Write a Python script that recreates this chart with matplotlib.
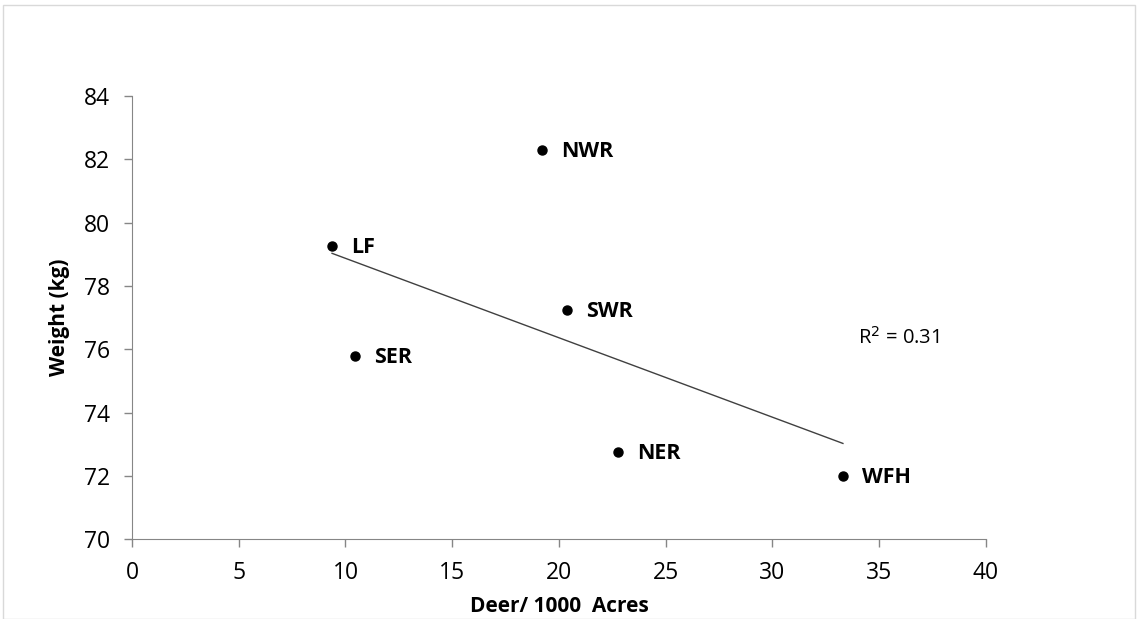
import numpy as np
import matplotlib
matplotlib.use('Agg')
from matplotlib import pyplot as plt
from matplotlib.patches import Rectangle

sites = ['LF', 'SER', 'NWR', 'SWR', 'NER', 'WFH']
deer_density = [9.37, 10.44, 19.2, 20.37, 22.76, 33.3]
weight = [79.26, 75.78, 82.29, 77.24, 72.75, 71.99]
r2_text = 'R$^2$ = 0.31'

plt.rcParams['font.family'] = ['Open Sans', 'DejaVu Sans']

fig = plt.figure(figsize=(11.38, 6.19), dpi=100)
ax = fig.add_axes([0.116, 0.129, 0.7504, 0.716])

fig.patches.append(Rectangle((0.003, 0.0), 0.994, 0.992, transform=fig.transFigure,
                             fill=False, edgecolor='#d9d9d9', linewidth=1))

ax.plot(deer_density, weight, 'o', color='black', markersize=6.5)
for name, x, y in zip(sites, deer_density, weight):
    ax.annotate(name, (x, y), xytext=(14, -1), textcoords='offset points',
                va='center', ha='left', fontsize=15.5, fontweight='bold')

slope, intercept = np.polyfit(deer_density, weight, 1)
xs = np.array([min(deer_density), max(deer_density)])
ax.plot(xs, slope * xs + intercept, color='#404040', linewidth=1)

ax.text(34.0, 76.35, r2_text, fontsize=14.5, va='center', ha='left')

ax.set_xlim(0, 40)
ax.set_ylim(70, 84)
ax.set_xticks(np.arange(0, 41, 5))
ax.set_yticks(np.arange(70, 85, 2))
ax.tick_params(labelsize=16.5, color='#868686', length=6, width=1)
ax.tick_params(axis='x', pad=10)
ax.tick_params(axis='y', pad=10)
for s in ['top', 'right']:
    ax.spines[s].set_visible(False)
for s in ['left', 'bottom']:
    ax.spines[s].set_color('#868686')

ax.set_xlabel('Deer/ 1000  Acres', fontsize=15, fontweight='bold', labelpad=8)
ax.set_ylabel('Weight (kg)', fontsize=15, fontweight='bold', labelpad=10)

fig.savefig('out.png', dpi=100)
